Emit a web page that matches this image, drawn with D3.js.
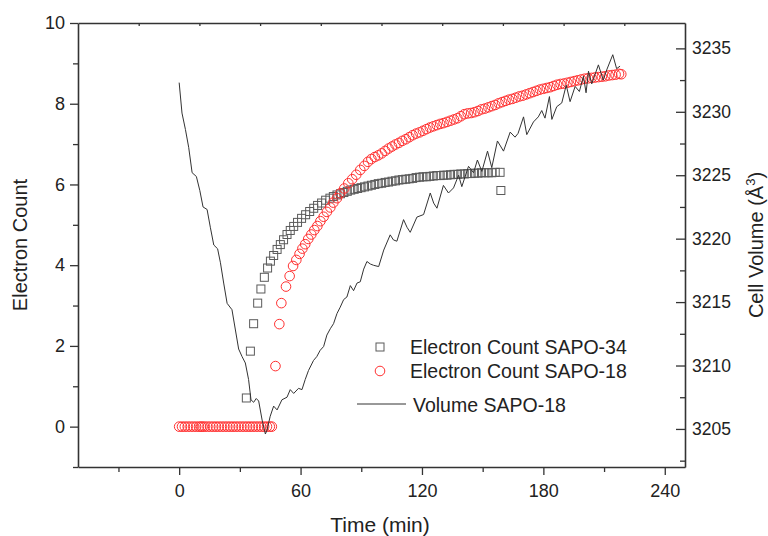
<!DOCTYPE html>
<html>
<head>
<meta charset="utf-8">
<script src="https://cdn.jsdelivr.net/npm/d3@7"></script>
<style>
  body { margin: 0; background: #fff; }
  text { font-family: "Liberation Sans", Arial, sans-serif; fill: #222; }
</style>
</head>
<body>
<svg width="768" height="536"></svg>
<script>
// Electron count SAPO-34 (squares), time in min
var sapo34Time = [33.2, 35.2, 36.8, 38.8, 40.4, 42.1, 43.7, 45.1, 46.7, 48.4, 50.0, 51.6, 53.3, 54.9, 56.6, 58.5,
  60.5, 62.5, 64.5, 66.5, 68.4, 70.4, 72.4, 74.5, 76.2, 78.0, 79.7, 81.4, 83.1, 84.8, 86.5, 88.2, 89.9, 91.6,
  93.3, 95.0, 96.7, 98.4, 100.1, 101.8, 103.5, 105.2, 106.9, 108.6, 110.3, 112.0, 113.7, 115.4, 117.1, 118.8,
  120.5, 122.2, 123.9, 125.6, 127.3, 129.0, 130.7, 132.4, 134.1, 135.8, 137.5, 139.2, 140.9, 142.6, 144.3,
  146.0, 147.7, 149.4, 151.1, 152.8, 154.5, 156.2, 158.6, 159.0];
var sapo34Count = [0.71, 1.87, 2.55, 3.06, 3.41, 3.70, 3.93, 4.10, 4.24, 4.39, 4.51, 4.63, 4.76, 4.86, 4.96, 5.06,
  5.16, 5.25, 5.33, 5.41, 5.48, 5.54, 5.61, 5.66, 5.70, 5.74, 5.77, 5.80, 5.83, 5.86, 5.88, 5.90, 5.92, 5.94,
  5.96, 5.98, 6.00, 6.02, 6.03, 6.05, 6.06, 6.08, 6.09, 6.11, 6.12, 6.13, 6.14, 6.15, 6.17, 6.18,
  6.19, 6.19, 6.20, 6.21, 6.22, 6.22, 6.23, 6.23, 6.24, 6.25, 6.25, 6.26, 6.26, 6.27, 6.27,
  6.28, 6.28, 6.29, 6.29, 6.29, 6.29, 6.30, 6.30, 5.85];

// Electron count SAPO-18 (circles)
var sapo18Time = [0, 1.4, 2.8, 4.2, 5.6, 7.0, 8.4, 9.8, 10.8, 11.6, 12.6, 14.0, 15.4, 16.8, 18.2, 19.6, 21.0,
  22.4, 23.8, 25.2, 26.6, 28.0, 29.4, 30.8, 32.2, 33.6, 35.0, 36.4, 37.8, 39.2, 40.6, 42.0, 43.4, 44.8, 45.8,
  47.6, 49.5, 50.5, 52.8, 54.6, 56.3, 57.9, 59.5, 60.9, 62.3, 63.8, 65.3, 66.8, 68.3, 69.8, 71.4, 73.0, 74.7,
  76.2, 78.0, 79.6, 81.6, 83.6, 85.5, 87.5, 89.5, 91.5, 93.3, 95.0, 96.7, 98.4, 100.1, 101.8, 103.5, 105.2,
  106.9, 108.6, 110.3, 112.0, 113.7, 115.4, 117.1, 118.8, 120.5, 122.2, 123.9, 125.6, 127.3, 129.0, 130.7,
  132.4, 134.1, 135.8, 137.5, 139.2, 140.9, 142.6, 144.3, 146.0, 147.7, 149.4, 151.1, 152.8, 154.5, 156.2,
  157.9, 159.6, 161.3, 163.0, 164.7, 166.4, 168.1, 169.8, 171.5, 173.2, 174.9, 176.6, 178.3, 180.0, 181.7,
  183.4, 185.1, 186.8, 188.5, 190.2, 191.9, 193.6, 195.3, 197.0, 198.7, 200.4, 202.1, 203.8, 205.5, 207.2,
  208.9, 210.6, 212.3, 214.0, 215.7, 217.4, 218.5];
var sapo18Count = [0, 0, 0, 0, 0, 0, 0, 0, 0, 0, 0, 0, 0, 0, 0, 0, 0,
  0, 0, 0, 0, 0, 0, 0, 0, 0, 0, 0, 0, 0, 0, 0, 0, 0, 0,
  1.50, 2.54, 3.06, 3.47, 3.73, 3.98, 4.13, 4.28, 4.41, 4.52, 4.65, 4.76, 4.87, 4.97, 5.09, 5.20, 5.32, 5.43,
  5.55, 5.66, 5.78, 5.90, 6.03, 6.13, 6.24, 6.36, 6.46, 6.56, 6.63, 6.68, 6.72, 6.77, 6.83, 6.89, 6.94,
  6.99, 7.03, 7.08, 7.12, 7.17, 7.22, 7.26, 7.29, 7.33, 7.37, 7.41, 7.44, 7.47, 7.50, 7.52,
  7.55, 7.58, 7.61, 7.64, 7.69, 7.74, 7.76, 7.77, 7.79, 7.82, 7.86, 7.88, 7.91, 7.94, 7.97,
  8.01, 8.04, 8.07, 8.10, 8.12, 8.15, 8.18, 8.20, 8.23, 8.26, 8.29, 8.32, 8.35, 8.37, 8.39,
  8.41, 8.44, 8.47, 8.49, 8.50, 8.52, 8.54, 8.56, 8.58, 8.60, 8.62, 8.63, 8.64, 8.65, 8.66,
  8.67, 8.68, 8.70, 8.71, 8.72, 8.74, 8.73];

// Cell volume SAPO-18 (line, right axis)
var volTime = [0, 1.4, 3.1, 4.7, 6.4, 8.5, 10.2, 11.8, 13.8, 15.4, 17.1, 19.0, 20.4, 22.0, 23.7, 26.1, 27.8,
  29.4, 31.1, 32.7, 34.3, 35.5, 36.8, 38.1, 39.3, 41.0, 42.6, 43.4, 45.0, 46.7, 48.4, 50.8, 53.3, 54.9, 56.6,
  59.0, 60.7, 62.3, 63.9, 66.4, 68.0, 69.7, 71.4, 73.0, 74.7, 76.3, 78.0, 79.6, 81.3, 82.9, 84.6, 86.2, 87.9,
  89.5, 91.2, 92.8, 94.5, 96.1, 98.6, 101.1, 104.3, 105.9, 107.6, 110.9, 112.6, 114.2, 117.5, 120.8, 124.1,
  125.8, 127.4, 130.6, 133.1, 135.6, 138.1, 139.7, 143.0, 145.5, 147.4, 149.6, 152.4, 154.5, 157.3, 160.3,
  163.6, 166.0, 167.5, 170.2, 171.8, 175.1, 177.5, 179.2, 180.8, 183.0, 184.2, 186.6, 189.1, 191.3, 193.2,
  195.7, 197.8, 199.8, 201.1, 202.3, 203.9, 207.2, 209.6, 211.3, 214.3, 216.2, 217.9];
var volValue = [3232.3, 3229.9, 3228.6, 3227.2, 3225.2, 3224.9, 3223.8, 3222.5, 3222.3, 3220.9, 3219.5, 3219.2,
  3218.1, 3216.5, 3214.9, 3214.4, 3212.8, 3211.3, 3210.7, 3210.2, 3208.9, 3207.3, 3207.1, 3207.4, 3207.2,
  3205.7, 3204.6, 3204.9, 3206.0, 3206.8, 3206.5, 3207.3, 3207.5, 3208.1, 3207.8, 3208.2, 3208.1, 3208.9,
  3209.6, 3210.4, 3210.7, 3211.2, 3211.5, 3212.4, 3212.9, 3213.3, 3214.1, 3214.6, 3215.2, 3215.4, 3216.3,
  3215.9, 3216.5, 3216.6, 3217.6, 3218.2, 3218.0, 3217.9, 3217.8, 3219.1, 3220.3, 3219.9, 3219.8, 3221.5,
  3220.9, 3220.5, 3221.7, 3221.9, 3223.6, 3222.8, 3222.4, 3224.2, 3223.6, 3224.0, 3225.0, 3224.1, 3225.7,
  3225.2, 3226.2, 3225.3, 3226.9, 3225.6, 3227.7, 3226.9, 3228.4, 3228.0, 3228.3, 3229.6, 3228.2, 3229.2,
  3229.6, 3230.1, 3229.5, 3231.2, 3229.4, 3230.4, 3230.7, 3232.1, 3230.8, 3232.0, 3231.6, 3232.8, 3231.5,
  3233.2, 3232.2, 3233.7, 3232.5, 3233.3, 3234.5, 3233.4, 3233.6];

// ticks
var xMajor = [0, 60, 120, 180, 240];
var xMinor = [-30, 30, 90, 150, 210];
var xTop = [-20, 10, 40, 70, 100, 130, 160, 190, 220];
var yLeftMajor = [0, 2, 4, 6, 8, 10];
var yLeftMinor = [-1, 1, 3, 5, 7, 9];
var yRightMajor = [3205, 3210, 3215, 3220, 3225, 3230, 3235];
var yRightMinor = [3202.5, 3207.5, 3212.5, 3217.5, 3222.5, 3227.5, 3232.5];
var legendLabels = ["Electron Count SAPO-34", "Electron Count SAPO-18", "Volume SAPO-18"];

var svg = d3.select("svg");
var plotL = 78, plotR = 685, plotT = 23, plotB = 467;

var x = d3.scaleLinear().domain([-50, 250]).range([plotL, plotR]);
var yL = d3.scaleLinear().domain([-1, 10]).range([plotB, plotT]);
var yR = d3.scaleLinear().domain([3202, 3237]).range([plotB, plotT]);

var axisColor = "#333";

function styleAxis(g, fontSize) {
  g.selectAll("path, line").attr("stroke", axisColor);
  g.select(".domain").attr("stroke-width", 1.6);
  g.selectAll(".tick line").attr("stroke-width", 1.3);
  g.selectAll("text").attr("fill", "#222").style("font-size", fontSize + "px")
    .style("font-family", '"Liberation Sans", Arial, sans-serif');
}

// bottom axis
var gx = svg.append("g").attr("transform", "translate(0," + plotB + ")")
  .call(d3.axisBottom(x).tickValues(xMajor).tickSizeInner(8).tickSizeOuter(0).tickPadding(9));
styleAxis(gx, 18);
var gxm = svg.append("g").attr("transform", "translate(0," + plotB + ")")
  .call(d3.axisBottom(x).tickValues(xMinor).tickSizeInner(5).tickSizeOuter(0).tickFormat(""));
styleAxis(gxm, 18);
gxm.select(".domain").remove();

// top axis
var gt = svg.append("g").attr("transform", "translate(0," + plotT + ")")
  .call(d3.axisTop(x).tickValues(xTop).tickSizeInner(-3).tickSizeOuter(0).tickFormat(""));
styleAxis(gt, 18);

// left axis
var gy = svg.append("g").attr("transform", "translate(" + plotL + ",0)")
  .call(d3.axisLeft(yL).tickValues(yLeftMajor).tickSizeInner(8).tickSizeOuter(0).tickPadding(5));
styleAxis(gy, 18);
var gym = svg.append("g").attr("transform", "translate(" + plotL + ",0)")
  .call(d3.axisLeft(yL).tickValues(yLeftMinor).tickSizeInner(5).tickSizeOuter(0).tickFormat(""));
styleAxis(gym, 18);
gym.select(".domain").remove();

// right axis (ticks point inward)
var gr = svg.append("g").attr("transform", "translate(" + plotR + ",0)")
  .call(d3.axisRight(yR).tickValues(yRightMajor).tickSizeInner(-9).tickSizeOuter(0).tickPadding(7)
    .tickFormat(d3.format("d")));
styleAxis(gr, 17.5);
var grm = svg.append("g").attr("transform", "translate(" + plotR + ",0)")
  .call(d3.axisRight(yR).tickValues(yRightMinor).tickSizeInner(-5).tickSizeOuter(0).tickFormat(""));
styleAxis(grm, 17.5);
grm.select(".domain").remove();

// axis titles
svg.append("text").attr("x", 380).attr("y", 532)
  .attr("text-anchor", "middle").style("font-size", "21px").text("Time (min)");
svg.append("text").attr("transform", "translate(27," + (plotT + plotB) / 2 + ") rotate(-90)")
  .attr("text-anchor", "middle").style("font-size", "20px").text("Electron Count");
var rt = svg.append("text").attr("transform", "translate(763," + (plotT + plotB) / 2 + ") rotate(-90)")
  .attr("text-anchor", "middle").style("font-size", "20px");
rt.append("tspan").text("Cell Volume (Å");
rt.append("tspan").attr("dy", -8).style("font-size", "13px").text("3");
rt.append("tspan").attr("dy", 8).text(")");

// marks
var sq = 8, rad = 4.8;
var sapo34 = sapo34Time.map((t, i) => ({t: t, v: sapo34Count[i]}));
var sapo18 = sapo18Time.map((t, i) => ({t: t, v: sapo18Count[i]}));
var vol = volTime.map((t, i) => ({t: t, v: volValue[i]}));

svg.append("g").selectAll("rect").data(sapo34).enter().append("rect")
  .attr("x", d => x(d.t) - sq / 2)
  .attr("y", d => yL(d.v) - sq / 2)
  .attr("width", sq).attr("height", sq)
  .attr("fill", "none").attr("stroke", "#5a5a5a").attr("stroke-width", 1);

svg.append("g").selectAll("circle").data(sapo18).enter().append("circle")
  .attr("cx", d => x(d.t))
  .attr("cy", d => yL(d.v))
  .attr("r", rad)
  .attr("fill", "none").attr("stroke", "#ff3030").attr("stroke-width", 1);

var line = d3.line().x(d => x(d.t)).y(d => yR(d.v));
svg.append("path").datum(vol).attr("d", line)
  .attr("fill", "none").attr("stroke", "#333").attr("stroke-width", 1);

// legend
var lg = svg.append("g");
lg.append("rect").attr("x", 380 - sq / 2).attr("y", 347 - sq / 2).attr("width", sq).attr("height", sq)
  .attr("fill", "none").attr("stroke", "#5a5a5a");
lg.append("circle").attr("cx", 380).attr("cy", 371).attr("r", rad)
  .attr("fill", "none").attr("stroke", "#ff3030");
lg.append("line").attr("x1", 357).attr("x2", 406).attr("y1", 404).attr("y2", 404)
  .attr("stroke", "#333").attr("stroke-width", 1);
lg.selectAll("text").data(legendLabels).enter().append("text")
  .attr("x", (d, i) => i < 2 ? 410 : 413)
  .attr("y", (d, i) => [347, 371, 405][i])
  .attr("dy", "0.35em")
  .style("font-size", "19.5px")
  .text(d => d);
</script>
</body>
</html>
